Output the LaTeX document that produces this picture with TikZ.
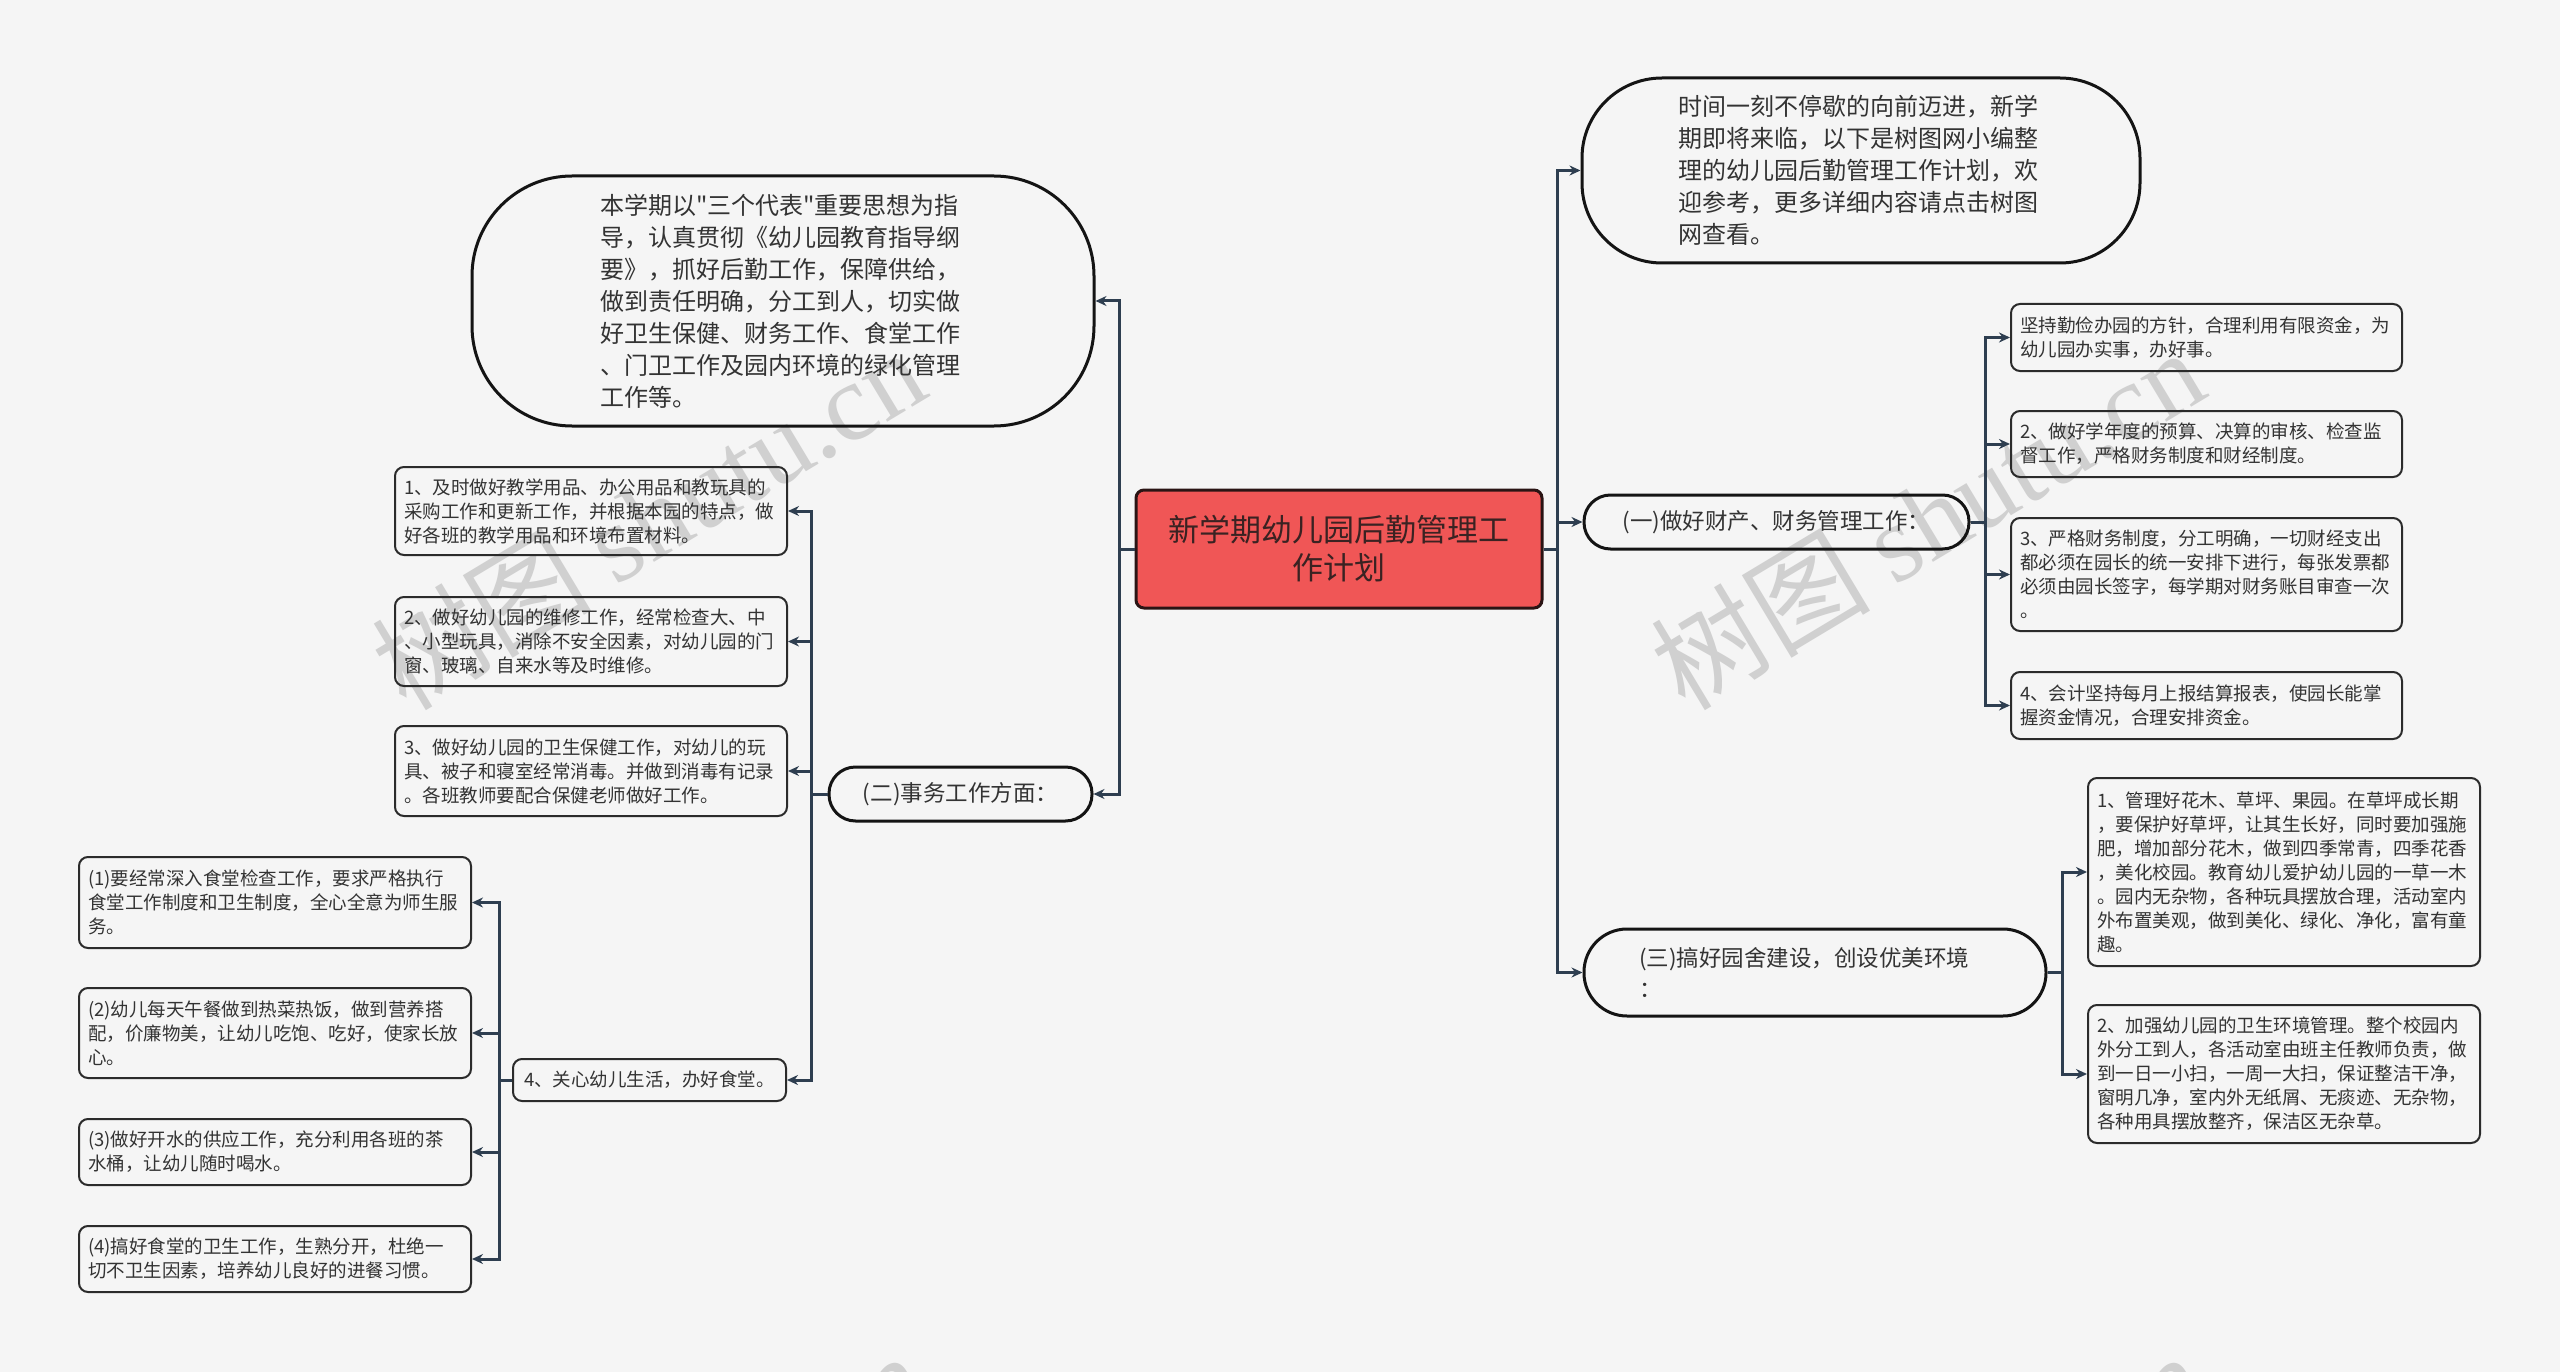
\documentclass[tikz,border=0pt]{standalone}
\usepackage{fontspec}
\setmainfont{Noto Sans CJK SC}
\newfontfamily\qf{Noto Sans CJK SC}
\newfontfamily\wmserif{Liberation Serif}
\usetikzlibrary{arrows.meta}
\definecolor{bg}{HTML}{F5F5F5}
\definecolor{ln}{HTML}{2E3E50}
\definecolor{bd}{HTML}{2B2B2B}
\definecolor{rootfill}{HTML}{F05656}
\definecolor{rootline}{HTML}{2A1414}
\definecolor{roottext}{HTML}{3A2222}
\definecolor{wm}{HTML}{D0D0D0}
\definecolor{txt}{HTML}{333333}
\tikzset{
  box/.style={draw=bd, line width=2pt, rounded corners=9pt, inner sep=0pt, align=left,
    font=\fontsize{18.5pt}{24pt}\selectfont, text=txt},
  stad/.style={draw=black!92, line width=3pt, inner sep=0pt, text=txt},
  midfont/.style={font=\fontsize{22.5pt}{31pt}\selectfont},
  bigfont/.style={font=\fontsize{24pt}{32pt}\selectfont},
  conn/.style={draw=ln, line width=3pt, -{Stealth[length=11pt,width=10pt]}},
  wmark/.style={rotate=31, text=wm, font=\fontsize{110pt}{110pt}\selectfont, inner sep=0pt},
}
\begin{document}
\begin{tikzpicture}[x=1pt,y=-1pt]
\fill[bg] (0,0) rectangle (2560,1372);
\useasboundingbox (0,0) rectangle (2560,1372);
\begin{scope}
\clip (0,0) rectangle (2560,1372);
\node[wmark] (wm1) at (648,518) {树图 {\wmserif shutu.cn}};
\node[wmark] (wm2) at (1927,518) {树图 {\wmserif shutu.cn}};
\node[wmark] (wm3) at (648,1522) {树图 {\wmserif shutu.cn}};
\node[wmark] (wm4) at (1927,1522) {树图 {\wmserif shutu.cn}};
\end{scope}

% root
\node[draw=rootline, line width=3pt, fill=rootfill, rounded corners=8pt, inner sep=0pt,
  minimum width=406pt, minimum height=118pt, align=center,
  font=\fontsize{31pt}{38pt}\selectfont, text=roottext] (root) at (1339,549)
  {新学期幼儿园后勤管理工\\作计划};

% level 1
\node[stad, bigfont, rounded corners=100pt, minimum width=622pt, minimum height=250pt,
  text width=366pt, align=left] (tl) at (783,301)
  {本学期以{\qf"}三个代表{\qf"}重要思想为指\\导，认真贯彻《幼儿园教育指导纲\\要》，抓好后勤工作，保障供给，\\做到责任明确，分工到人，切实做\\好卫生保健、财务工作、食堂工作\\、门卫工作及园内环境的绿化管理\\工作等。};
\node[stad, bigfont, rounded corners=80pt, minimum width=558pt, minimum height=185pt,
  text width=366pt, align=left] (tr) at (1861,170.5)
  {时间一刻不停歇的向前迈进，新学\\期即将来临，以下是树图网小编整\\理的幼儿园后勤管理工作计划，欢\\迎参考，更多详细内容请点击树图\\网查看。};
\node[stad, midfont, rounded corners=26.5pt, minimum width=385pt, minimum height=54pt,
  align=center] (n1) at (1776.5,522) {(一)做好财产、财务管理工作：};
\node[stad, midfont, rounded corners=26.5pt, minimum width=263pt, minimum height=54pt,
  align=center] (n2) at (960.5,794) {(二)事务工作方面：};
\node[stad, midfont, rounded corners=43pt, minimum width=462pt, minimum height=87pt,
  text width=352pt, align=left] (n3) at (1815,972.5) {(三)搞好园舍建设，创设优美环境\\：};

% children of (一)
\node[box, minimum width=391pt, minimum height=67pt, text width=373pt] (c1) at (2206.5,337.5)
  {坚持勤俭办园的方针，合理利用有限资金，为\\幼儿园办实事，办好事。};
\node[box, minimum width=391pt, minimum height=66pt, text width=373pt] (c2) at (2206.5,444)
  {2、做好学年度的预算、决算的审核、检查监\\督工作，严格财务制度和财经制度。};
\node[box, minimum width=391pt, minimum height=113pt, text width=373pt] (c3) at (2206.5,574.5)
  {3、严格财务制度，分工明确，一切财经支出\\都必须在园长的统一安排下进行，每张发票都\\必须由园长签字，每学期对财务账目审查一次\\。};
\node[box, minimum width=391pt, minimum height=67pt, text width=373pt] (c4) at (2206.5,705.5)
  {4、会计坚持每月上报结算报表，使园长能掌\\握资金情况，合理安排资金。};

% children of (三)
\node[box, minimum width=392pt, minimum height=188pt, text width=374pt] (d1) at (2284,872)
  {1、管理好花木、草坪、果园。在草坪成长期\\，要保护好草坪，让其生长好，同时要加强施\\肥，增加部分花木，做到四季常青，四季花香\\，美化校园。教育幼儿爱护幼儿园的一草一木\\。园内无杂物，各种玩具摆放合理，活动室内\\外布置美观，做到美化、绿化、净化，富有童\\趣。};
\node[box, minimum width=392pt, minimum height=138pt, text width=374pt] (d2) at (2284,1074)
  {2、加强幼儿园的卫生环境管理。整个校园内\\外分工到人，各活动室由班主任教师负责，做\\到一日一小扫，一周一大扫，保证整洁干净，\\窗明几净，室内外无纸屑、无痰迹、无杂物，\\各种用具摆放整齐，保洁区无杂草。};

% children of (二)
\node[box, minimum width=392pt, minimum height=88pt, text width=374pt] (b1) at (591,511)
  {1、及时做好教学用品、办公用品和教玩具的\\采购工作和更新工作，并根据本园的特点，做\\好各班的教学用品和环境布置材料。};
\node[box, minimum width=392pt, minimum height=89pt, text width=374pt] (b2) at (591,641.5)
  {2、做好幼儿园的维修工作，经常检查大、中\\、小型玩具，消除不安全因素，对幼儿园的门\\窗、玻璃、自来水等及时维修。};
\node[box, minimum width=392pt, minimum height=90pt, text width=374pt] (b3) at (591,771)
  {3、做好幼儿园的卫生保健工作，对幼儿的玩\\具、被子和寝室经常消毒。并做到消毒有记录\\。各班教师要配合保健老师做好工作。};
\node[box, minimum width=273pt, minimum height=42pt, align=center] (b4) at (649.5,1080)
  {4、关心幼儿生活，办好食堂。};

% children of 4
\node[box, minimum width=392pt, minimum height=91pt, text width=374pt] (e1) at (275,902.5)
  {(1)要经常深入食堂检查工作，要求严格执行\\食堂工作制度和卫生制度，全心全意为师生服\\务。};
\node[box, minimum width=392pt, minimum height=90pt, text width=374pt] (e2) at (275,1033)
  {(2)幼儿每天午餐做到热菜热饭，做到营养搭\\配，价廉物美，让幼儿吃饱、吃好，使家长放\\心。};
\node[box, minimum width=392pt, minimum height=66pt, text width=374pt] (e3) at (275,1152)
  {(3)做好开水的供应工作，充分利用各班的茶\\水桶，让幼儿随时喝水。};
\node[box, minimum width=392pt, minimum height=66pt, text width=374pt] (e4) at (275,1259)
  {(4)搞好食堂的卫生工作，生熟分开，杜绝一\\切不卫生因素，培养幼儿良好的进餐习惯。};

% connectors
\draw[conn] (root.west) -- ++(-15,0) |- (tl.east);
\draw[conn] (root.west) -- ++(-15,0) |- (n2.east);
\draw[conn] (root.east) -- ++(14,0) |- (tr.west);
\draw[conn] (root.east) -- ++(14,0) |- (n1.west);
\draw[conn] (root.east) -- ++(14,0) |- (n3.west);

\foreach \c in {c1,c2,c3,c4}{\draw[conn] (n1.east) -- ++(15,0) |- (\c.west);}
\foreach \c in {d1,d2}{\draw[conn] (n3.east) -- ++(15,0) |- (\c.west);}
\foreach \c in {b1,b2,b3,b4}{\draw[conn] (n2.west) -- ++(-16,0) |- (\c.east);}
\foreach \c in {e1,e2,e3,e4}{\draw[conn] (b4.west) -- ++(-13,0) |- (\c.east);}
\end{tikzpicture}
\end{document}
